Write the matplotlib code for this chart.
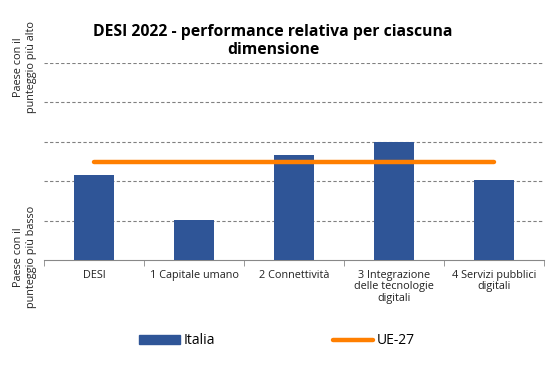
import matplotlib.pyplot as plt
from matplotlib.lines import Line2D
from matplotlib.patches import Patch

categories = ["DESI", "1 Capitale umano", "2 Connettività",
              "3 Integrazione\ndelle tecnologie\ndigitali", "4 Servizi pubblici\ndigitali"]
italia = [43, 20.5, 53.5, 60, 40.5]
ue27 = [50, 50, 50, 50, 50]

W, H = 551, 368
fig = plt.figure(figsize=(W/100, H/100), dpi=100)
plt.rcParams['font.family'] = ['Open Sans', 'DejaVu Sans']

ax = fig.add_axes([44/W, 1-260/H, 500/W, (260-63)/H])
x = list(range(len(categories)))
ax.bar(x, italia, width=0.4, color='#2F5597', zorder=3)
ax.plot(x, ue27, color='#FF7F00', lw=3.2, solid_capstyle='round', zorder=4)
ax.set_xlim(-0.5, 4.5)
ax.set_ylim(0, 100)
ax.set_yticks([20, 40, 60, 80, 100])
ax.yaxis.grid(True, linestyle=(0, (3, 2)), color='#808080', lw=0.8)
ax.tick_params(axis='y', length=0, labelleft=False)
ax.set_xticks(x)
ax.set_xticklabels(categories, fontsize=7.8, color='#222222', linespacing=1.05, va='top')
ax.tick_params(axis='x', length=0, pad=7)
ax.set_xticks([i - 0.5 for i in range(6)], minor=True)
ax.tick_params(axis='x', which='minor', length=4, color='#888888')
for s in ['top', 'right', 'left']:
    ax.spines[s].set_visible(False)
ax.spines['bottom'].set_color('#888888')

fig.text(273/W, 1-41/H, "DESI 2022 - performance relativa per ciascuna\ndimensione",
         ha='center', va='center', fontsize=11.3, fontweight='bold', linespacing=1.2)
fig.text(25/W, 1-67/H, "Paese con il\npunteggio più alto", rotation=90, ha='center', va='center',
         fontsize=7.8, color='#222222', linespacing=1.2)
fig.text(25/W, 1-257/H, "Paese con il\npunteggio più basso", rotation=90, ha='center', va='center',
         fontsize=7.8, color='#222222', linespacing=1.2)

handles = [Patch(color='#2F5597'), Line2D([], [], color='#FF7F00', lw=3.2, solid_capstyle='round')]
fig.legend(handles, ["Italia", "UE-27"], loc='center', bbox_to_anchor=(277/W, 1-341/H), ncol=2,
           frameon=False, fontsize=10, columnspacing=8.5, handlelength=2.9, handleheight=0.6,
           handletextpad=0.25)

fig.savefig("out.png", dpi=100)
